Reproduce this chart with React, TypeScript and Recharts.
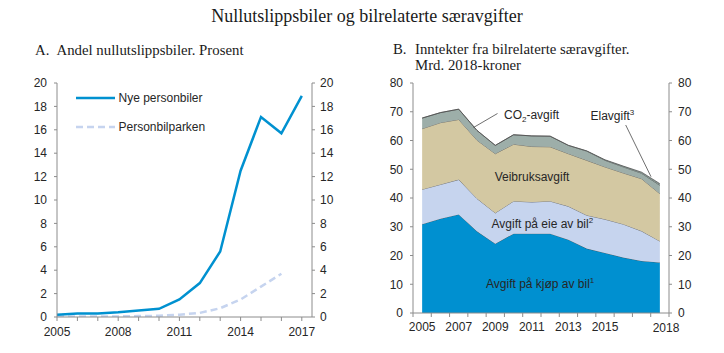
import React from 'react';
import {
  Area,
  ComposedChart,
  Line,
  XAxis,
  YAxis,
} from 'recharts';

// Panel A: andel nullutslippsbiler (prosent)
const yearsA = [2005, 2006, 2007, 2008, 2009, 2010, 2011, 2012, 2013, 2014, 2015, 2016, 2017];
const nyePersonbiler = [0.2, 0.3, 0.3, 0.4, 0.55, 0.7, 1.5, 2.9, 5.6, 12.5, 17.1, 15.7, 18.9];
const personbilparken = [0.05, 0.05, 0.05, 0.05, 0.08, 0.1, 0.2, 0.35, 0.75, 1.5, 2.6, 3.7, null];
const ticksA = [0, 2, 4, 6, 8, 10, 12, 14, 16, 18, 20];
const labelYearsA = [2005, 2008, 2011, 2014, 2017];

// Panel B: inntekter fra bilrelaterte særavgifter (mrd. 2018-kroner)
const yearsB = [2005, 2006, 2007, 2008, 2009, 2010, 2011, 2012, 2013, 2014, 2015, 2016, 2017, 2018];
const kjop = [30.9, 32.8, 34.3, 28.4, 24.1, 27.6, 27.6, 27.6, 25.5, 22.4, 20.9, 19.3, 18.1, 17.6];
const eie = [12.1, 11.9, 12.1, 11.4, 10.7, 11.3, 11.0, 11.3, 11.6, 11.6, 11.7, 11.6, 10.4, 7.4];
const veibruk = [21.1, 21.5, 20.9, 20.3, 20.6, 19.8, 19.3, 18.9, 18.3, 19.1, 18.2, 17.8, 18.2, 16.5];
const co2 = [3.7, 3.5, 3.6, 3.4, 2.9, 3.3, 3.7, 3.7, 2.9, 3.2, 2.3, 2.1, 1.9, 2.9];
const elavgift = [0, 0, 0, 0, 0, 0, 0, 0, 0, 0.1, 0.2, 0.3, 0.4, 0.6];
const ticksB = [0, 10, 20, 30, 40, 50, 60, 70, 80];
const labelYearsB = [2005, 2007, 2009, 2011, 2013, 2015];

const dataA = yearsA.map((year, i) => ({
  year,
  nye: nyePersonbiler[i],
  park: personbilparken[i],
}));

const dataB = yearsB.map((year, i) => ({
  year,
  kjop: kjop[i],
  eie: eie[i],
  veibruk: veibruk[i],
  co2: co2[i],
  el: elavgift[i],
}));

const sans = 'Liberation Sans, Arial, sans-serif';
const serif = 'Liberation Serif, Times New Roman, serif';
const axisGray = '#8c8c8c';
const textColor = '#262626';
const tickStyle = { fontSize: 12, fill: textColor, fontFamily: sans };

const halfYears = yearsB.map((y) => y - 0.5).concat([2018.5]);
const ticksXB = halfYears.concat(labelYearsB).sort((a, b) => a - b);

function YearTickB(props: any) {
  const { x, y, payload } = props;
  const v = payload.value;
  const axisY = y - 9;
  const half = !Number.isInteger(v);
  return (
    <g>
      {half && <line x1={x} x2={x} y1={axisY} y2={axisY + 4} stroke={axisGray} />}
      {!half && (
        <text x={x} y={y} dy="0.71em" textAnchor="middle" {...tickStyle}>
          {v}
        </text>
      )}
      {/* last label sits at the axis end in the original */}
      {v === 2018.5 && (
        <text x={x - 3} y={y + 1} dy="0.71em" textAnchor="middle" {...tickStyle}>
          2018
        </text>
      )}
    </g>
  );
}

function PanelA() {
  return (
    <ComposedChart
      width={360}
      height={353}
      data={dataA}
      margin={{ top: 83, right: 8, bottom: 6, left: 0 }}
    >
      <XAxis
        dataKey="year"
        type="number"
        domain={[2005, 2017.5]}
        ticks={yearsA}
        interval={0}
        tickFormatter={(v) => (labelYearsA.includes(v) ? String(v) : '')}
        tickSize={4}
        tickMargin={6}
        height={30}
        stroke={axisGray}
        tick={tickStyle}
      />
      <YAxis
        yAxisId="l"
        type="number"
        domain={[0, 20]}
        allowDataOverflow
        ticks={ticksA}
        interval={0}
        width={57}
        tickSize={3}
        tickMargin={7}
        stroke={axisGray}
        tick={tickStyle}
      />
      <YAxis
        yAxisId="r"
        type="number"
        orientation="right"
        domain={[0, 20]}
        allowDataOverflow
        ticks={ticksA}
        interval={0}
        width={40}
        tickSize={3}
        tickMargin={5}
        stroke={axisGray}
        tick={tickStyle}
      />
      <Line
        yAxisId="r"
        type="linear"
        dataKey="park"
        stroke="#c6d4ef"
        strokeWidth={2.5}
        strokeDasharray="7 4"
        dot={false}
        activeDot={false}
        isAnimationActive={false}
      />
      <Line
        yAxisId="l"
        type="linear"
        dataKey="nye"
        stroke="#0091d0"
        strokeWidth={2.5}
        dot={false}
        activeDot={false}
        isAnimationActive={false}
      />
    </ComposedChart>
  );
}

function PanelB() {
  const areaProps = {
    type: 'linear' as const,
    stackId: '1',
    yAxisId: 'l',
    stroke: '#4a4a4a',
    strokeWidth: 0.7,
    fillOpacity: 1,
    dot: false,
    activeDot: false,
    isAnimationActive: false,
  };
  return (
    <ComposedChart
      width={364}
      height={353}
      data={dataB}
      margin={{ top: 83, right: 15, bottom: 10, left: 0 }}
    >
      <XAxis
        dataKey="year"
        type="number"
        domain={[2004.5, 2018.5]}
        ticks={ticksXB}
        interval={0}
        tickLine={false}
        tickSize={4}
        tickMargin={5}
        height={30}
        stroke={axisGray}
        tick={<YearTickB />}
      />
      <YAxis
        yAxisId="l"
        type="number"
        domain={[0, 80]}
        allowDataOverflow
        ticks={ticksB}
        interval={0}
        width={53}
        tickSize={3}
        tickMargin={7}
        stroke={axisGray}
        tick={tickStyle}
      />
      <YAxis
        yAxisId="r"
        type="number"
        orientation="right"
        domain={[0, 80]}
        allowDataOverflow
        ticks={ticksB}
        interval={0}
        width={40}
        tickSize={3}
        tickMargin={6}
        stroke={axisGray}
        tick={tickStyle}
      />
      <Area {...areaProps} dataKey="kjop" fill="#0090d0" />
      <Area {...areaProps} dataKey="eie" fill="#c6d4ee" />
      <Area {...areaProps} dataKey="veibruk" fill="#d3c8a2" />
      <Area {...areaProps} dataKey="co2" fill="#9daea9" />
      <Area {...areaProps} dataKey="el" fill="#7f928d" />
    </ComposedChart>
  );
}

export default function App() {
  return (
    <div style={{ position: 'absolute', left: 0, top: 0, width: 724, height: 353, background: '#fff' }}>
      <div style={{ position: 'absolute', left: 0, top: 0 }}>
        <PanelA />
      </div>
      <div style={{ position: 'absolute', left: 360, top: 0 }}>
        <PanelB />
      </div>
      <svg
        width={724}
        height={353}
        style={{ position: 'absolute', left: 0, top: 0, pointerEvents: 'none' }}
      >
        <text x={367} y={22} textAnchor="middle" fontFamily={serif} fontSize={18} fill="#1a1a1a">
          Nullutslippsbiler og bilrelaterte særavgifter
        </text>
        <g fontFamily={serif} fontSize={14.8} fill="#1a1a1a">
          <text x={35} y={55}>A.</text>
          <text x={56.5} y={55}>Andel nullutslippsbiler. Prosent</text>
          <text x={393} y={54}>B.</text>
          <text x={415} y={54}>Inntekter fra bilrelaterte særavgifter.</text>
          <text x={415} y={70}>Mrd. 2018-kroner</text>
        </g>

        {/* legend, panel A */}
        <line x1={76} x2={115} y1={98} y2={98} stroke="#0091d0" strokeWidth={2.5} />
        <line x1={76} x2={115} y1={127} y2={127} stroke="#c6d4ef" strokeWidth={2.5} strokeDasharray="7 4" />
        <g fontFamily={sans} fontSize={12} fill={textColor}>
          <text x={118.5} y={102.3}>Nye personbiler</text>
          <text x={118.5} y={131.3}>Personbilparken</text>
        </g>

        {/* labels, panel B */}
        <g fontFamily={sans} fontSize={12} fill={textColor}>
          <text x={532} y={181} textAnchor="middle">Veibruksavgift</text>
          <text x={491.5} y={228}>
            Avgift på eie av bil<tspan fontSize={8} dy={-5}>2</tspan>
          </text>
          <text x={486} y={288}>
            Avgift på kjøp av bil<tspan fontSize={8} dy={-5}>1</tspan>
          </text>
          <text x={504} y={119}>
            CO<tspan fontSize={8} dy={3}>2</tspan>
            <tspan dy={-3}>-avgift</tspan>
          </text>
          <text x={590.5} y={120}>
            Elavgift<tspan fontSize={8} dy={-5}>3</tspan>
          </text>
        </g>
        <line x1={473.5} y1={127.5} x2={497.5} y2={113.5} stroke="#4a4a4a" strokeWidth={0.8} />
        <line x1={625.7} y1={125} x2={651} y2={176.7} stroke="#4a4a4a" strokeWidth={0.8} />
      </svg>
    </div>
  );
}
